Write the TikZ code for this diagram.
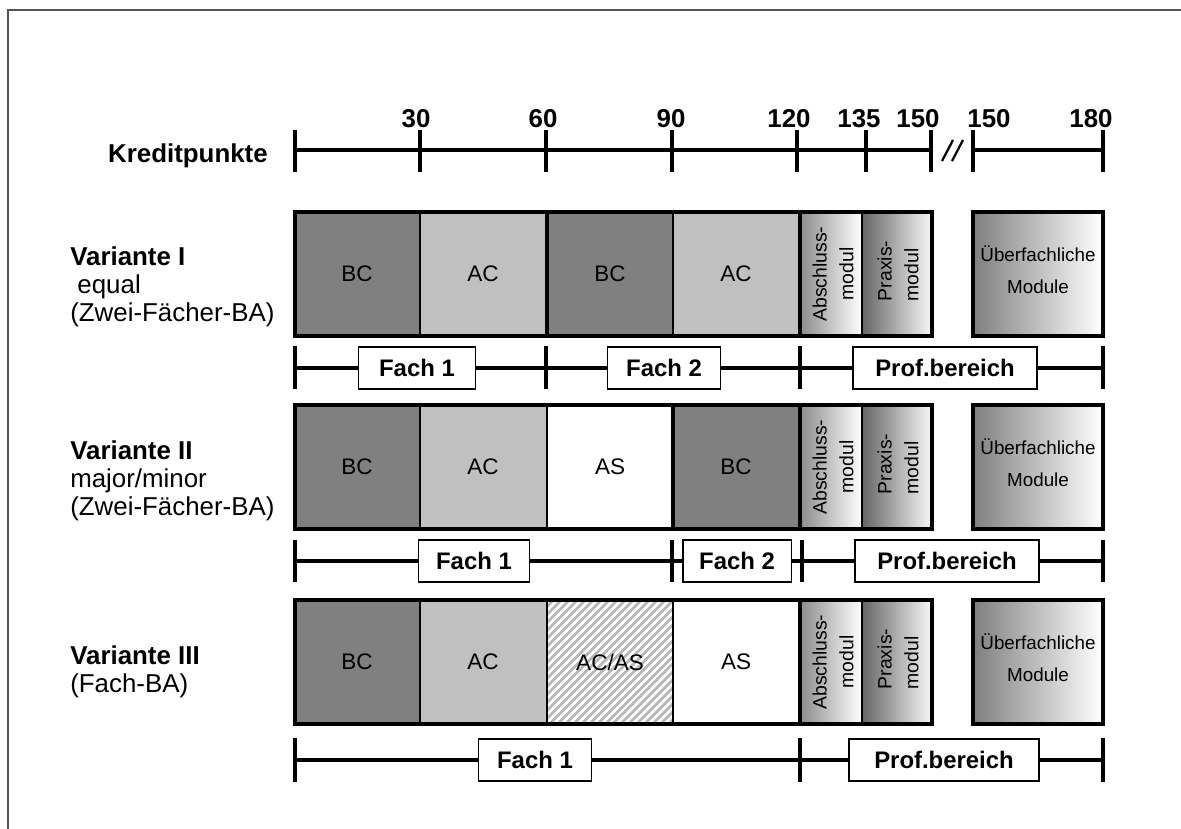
\documentclass[tikz,border=0pt]{standalone}
\usepackage{fontspec}
\setmainfont{Liberation Sans}
\usetikzlibrary{patterns.meta}
\definecolor{bcgray}{RGB}{128,128,128}
\definecolor{acgray}{RGB}{192,192,192}
\definecolor{hatchgray}{RGB}{185,185,185}
\definecolor{framegray}{RGB}{85,85,85}

\tikzset{
  tick/.style={line width=2.8pt},
  axisline/.style={line width=2.4pt},
  outerbar/.style={line width=2.8pt},
  thindiv/.style={line width=0.9pt},
  numlabel/.style={font=\fontsize{18.4}{20}\selectfont\bfseries, inner sep=0pt},
  rowtitle/.style={font=\fontsize{18.4}{20}\selectfont\bfseries, inner sep=0pt, anchor=base west},
  rowsub/.style={font=\fontsize{18.4}{20}\selectfont, inner sep=0pt, anchor=base west},
  celltext/.style={font=\fontsize{16}{19}\selectfont},
  rottext/.style={font=\fontsize{13.8}{19}\selectfont, rotate=90, align=center},
  uebtext/.style={font=\fontsize{13.4}{22.7}\selectfont, align=center},
  fachbox/.style={draw, line width=0.9pt, fill=white, inner sep=0pt,
    minimum height=30pt, font=\fontsize{17}{20}\selectfont\bfseries},
  bracket/.style={line width=2.4pt}
}

\begin{document}
\begin{tikzpicture}[x=0.025cm, y=-0.025cm]
  \useasboundingbox (0,0) rectangle (1181,828);

  %% frame
  \draw[framegray, line width=1pt] (8,900) -- (8,10) -- (1300,10);

  %% credit axis
  \node[rowtitle, anchor=base east] (kp) at (268,162) {Kreditpunkte};
  \foreach \x [count=\i] in {295,420,546,672,797,866,931,973,1103} {
    \coordinate (a\i) at (\x,150);
    \draw[tick] (\x,130) -- (\x,172);
  }
  \draw[axisline] (a1) -- (a7);
  \draw[axisline] (a8) -- (a9);
  \draw[line width=1.6pt] (942,161) -- (953,140) (952,161) -- (963,140);
  \foreach \lx/\lab [count=\i] in {416/30,543/60,671/90,789/120,859/135,918/150,989/150,1091/180}
    \node[numlabel, anchor=base] (n\i) at (\lx,127) {\lab};

  %% row specific cells
  \fill[bcgray] (295,212) rectangle (420,336);
  \fill[acgray] (420,212) rectangle (547,336);
  \fill[bcgray] (547,212) rectangle (673,336);
  \fill[acgray] (673,212) rectangle (800,336);
  \draw[thindiv] (420,212) -- (420,336) (673,212) -- (673,336);
  \draw[outerbar] (547,212) -- (547,336);
  \node[celltext] (r1c1) at (357,274) {BC};
  \node[celltext] (r1c2) at (483,274) {AC};
  \node[celltext] (r1c3) at (610,274) {BC};
  \node[celltext] (r1c4) at (736,274) {AC};

  \fill[bcgray] (295,405) rectangle (420,529);
  \fill[acgray] (420,405) rectangle (547,529);
  \fill[white] (547,405) rectangle (673,529);
  \fill[bcgray] (673,405) rectangle (800,529);
  \draw[thindiv] (420,405) -- (420,529) (547,405) -- (547,529);
  \draw[outerbar] (673,405) -- (673,529);
  \node[celltext] (r2c1) at (357,467) {BC};
  \node[celltext] (r2c2) at (483,467) {AC};
  \node[celltext] (r2c3) at (610,467) {AS};
  \node[celltext] (r2c4) at (736,467) {BC};

  \fill[bcgray] (295,600) rectangle (420,724);
  \fill[acgray] (420,600) rectangle (547,724);
  \fill[pattern={Lines[angle=45,distance=4pt,line width=2pt]}, pattern color=hatchgray]
    (547,600) rectangle (673,724);
  \draw[thindiv] (420,600) -- (420,724) (547,600) -- (547,724) (673,600) -- (673,724);
  \node[celltext] (r3c1) at (357,662) {BC};
  \node[celltext] (r3c2) at (483,662) {AC};
  \node[celltext] (r3c3) at (610,662) {AC/AS};
  \node[celltext] (r3c4) at (736,662) {AS};

  %% common modules per row
  \foreach \top [count=\i] in {212,405,600} {
    \shade[left color=black!45, right color=white] (800,\top) rectangle (862,\top+124);
    \shade[left color=black!60, right color=black!3] (862,\top) rectangle (932,\top+124);
    \shade[left color=black!50, right color=white] (973,\top) rectangle (1103,\top+124);
    \draw[line width=1.2pt] (862,\top) -- (862,\top+124);
    \draw[outerbar] (800,\top) -- (800,\top+124);
    \draw[outerbar] (295,\top) rectangle (932,\top+124);
    \draw[outerbar] (973,\top) rectangle (1103,\top+124);
    \node[rottext] (ab\i) at (833,\top+62) {Abschluss-\\modul};
    \node[rottext, align=left] (pr\i) at (898,\top+59) {Praxis-\\modul};
    \node[uebtext] (ue\i) at (1038,\top+58) {Überfachliche\\Module};
  }

  %% row titles
  \node[rowtitle] (v1) at (70,265) {Variante I};
  \node[rowsub] (v1a) at (70,293) {\ equal};
  \node[rowsub] (v1b) at (70,321) {(Zwei-Fächer-BA)};
  \node[rowtitle] (v2) at (70,459) {Variante II};
  \node[rowsub] (v2a) at (70,487) {major/minor};
  \node[rowsub] (v2b) at (70,515) {(Zwei-Fächer-BA)};
  \node[rowtitle] (v3) at (70,664) {Variante III};
  \node[rowsub] (v3a) at (70,692) {(Fach-BA)};

  %% brackets row 1
  \foreach \x [count=\i] in {295,546,800,1103} {
    \coordinate (b1\i) at (\x,368);
    \draw[tick] (\x,346) -- (\x,389);
  }
  \node[fachbox, minimum width=83pt] (f11) at (417,368) {Fach 1};
  \node[fachbox, minimum width=80pt] (f12) at (664,368) {Fach 2};
  \node[fachbox, minimum width=131pt] (f13) at (945,368) {Prof.bereich};
  \draw[bracket] (b11) -- (f11.west) (f11.east) -- (b12) -- (f12.west)
    (f12.east) -- (b13) -- (f13.west) (f13.east) -- (b14);

  %% brackets row 2
  \foreach \x [count=\i] in {295,672,802,1103} {
    \coordinate (b2\i) at (\x,561);
    \draw[tick] (\x,540) -- (\x,582);
  }
  \node[fachbox, minimum width=79pt] (f21) at (474,561) {Fach 1};
  \node[fachbox, minimum width=77pt] (f22) at (737,561) {Fach 2};
  \node[fachbox, minimum width=131pt] (f23) at (947,561) {Prof.bereich};
  \draw[bracket] (b21) -- (f21.west) (f21.east) -- (b22) -- (f22.west)
    (f22.east) -- (b23) -- (f23.west) (f23.east) -- (b24);

  %% brackets row 3
  \foreach \x [count=\i] in {295,800,1103} {
    \coordinate (b3\i) at (\x,760);
    \draw[tick] (\x,738) -- (\x,782);
  }
  \node[fachbox, minimum width=80pt] (f31) at (535,760) {Fach 1};
  \node[fachbox, minimum width=135pt] (f32) at (944,760) {Prof.bereich};
  \draw[bracket] (b31) -- (f31.west) (f31.east) -- (b32) -- (f32.west)
    (f32.east) -- (b33);
\end{tikzpicture}
\end{document}
